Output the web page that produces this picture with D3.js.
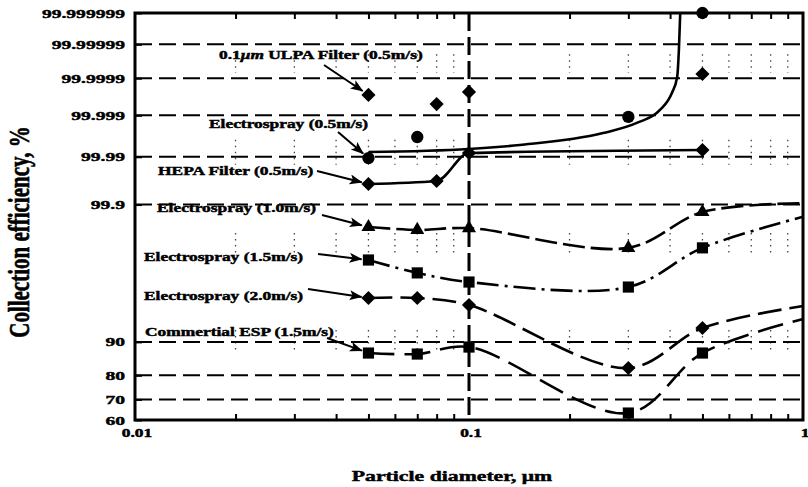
<!DOCTYPE html>
<html>
<head>
<meta charset="utf-8">
<script src="https://cdnjs.cloudflare.com/ajax/libs/d3/7.8.5/d3.min.js"></script>
<style>
	body { margin: 0; background: #fff; }
	text { font-family: "Liberation Serif", "Times New Roman", serif; font-weight: bold; fill: #000; stroke: #000; stroke-width: 0.45px; }
</style>
</head>
<body>
<div id="chart"></div>
<script>
// axis ticks
var sizeTicks = [0.01, 0.1, 1];
var sizeTickLabels = ['0.01', '0.1', '1'];
var effTicks = [60, 70, 80, 90, 99.9, 99.99, 99.999, 99.9999, 99.99999, 99.999999];
var effTickLabels = ['60', '70', '80', '90', '99.9', '99.99', '99.999', '99.9999', '99.99999', '99.999999'];

// measured points (particle size in um, collection efficiency in %)
var ulpaSize = [0.05, 0.08, 0.1, 0.5];
var ulpaEff = [99.99971, 99.99949, 99.99976, 99.999924];

var es05Size = [0.05, 0.07, 0.3, 0.5];
var es05Eff = [99.9893, 99.99654, 99.9989, 99.999999];
// fitted curve for electrospray 0.5 m/s
var es05FitSize = [0.05, 0.1, 0.142, 0.252, 0.318, 0.373, 0.405, 0.42, 0.425, 0.429];
var es05FitEff = [99.9922, 99.99336, 99.99465, 99.99723, 99.99844, 99.999273, 99.999743, 99.9999075, 99.9999851, 99.999999];

var hepaSize = [0.05, 0.08, 0.1, 0.5];
var hepaEff = [99.9612, 99.9663, 99.9918, 99.9930];

var es10Size = [0.05, 0.07, 0.1, 0.3, 0.5];
var es10Eff = [99.740, 99.707, 99.728, 99.413, 99.861];
var es10End = 99.906;

var es15Size = [0.05, 0.07, 0.1, 0.3, 0.5];
var es15Eff = [99.086, 98.574, 98.077, 97.746, 99.413];
var es15End = 99.83;

var es20Size = [0.05, 0.07, 0.1, 0.3, 0.5];
var es20Eff = [96.856, 96.856, 96.14, 82.59, 92.85];
var es20End = 96.03;

var espSize = [0.05, 0.07, 0.1, 0.3, 0.5];
var espEff = [87.18, 86.9, 88.76, 63.5, 87.18];
var espEnd = 94.33;

var width = 808, height = 487;
var plotLeft = 135, plotRight = 803, plotTop = 13, plotBottom = 420;
var SX = 1.45; // the scan is stretched sideways, so is the text

// inverse normal cdf (Acklam), works from the efficiency in %
function probit(eff) {
	var a = [-3.969683028665376e+01, 2.209460984245205e+02, -2.759285104469687e+02, 1.383577518672690e+02, -3.066479806614716e+01, 2.506628277459239e+00];
	var b = [-5.447609879822406e+01, 1.615858368580409e+02, -1.556989798598866e+02, 6.680131188771972e+01, -1.328068155288572e+01];
	var c = [-7.784894002430293e-03, -3.223964580411365e-01, -2.400758277161838e+00, -2.549732539343734e+00, 4.374664141464968e+00, 2.938163982698783e+00];
	var d = [7.784695709041462e-03, 3.224671290700398e-01, 2.445134137142996e+00, 3.754408661907416e+00];
	var p = eff / 100, pen = (100 - eff) / 100, q, r;
	if (pen < 0.02425) {
		q = Math.sqrt(-2 * Math.log(pen));
		return -(((((c[0]*q+c[1])*q+c[2])*q+c[3])*q+c[4])*q+c[5]) / ((((d[0]*q+d[1])*q+d[2])*q+d[3])*q+1);
	}
	if (p < 0.02425) {
		q = Math.sqrt(-2 * Math.log(p));
		return (((((c[0]*q+c[1])*q+c[2])*q+c[3])*q+c[4])*q+c[5]) / ((((d[0]*q+d[1])*q+d[2])*q+d[3])*q+1);
	}
	q = p - 0.5; r = q * q;
	return (((((a[0]*r+a[1])*r+a[2])*r+a[3])*r+a[4])*r+a[5])*q / (((((b[0]*r+b[1])*r+b[2])*r+b[3])*r+b[4])*r+1);
}

var x = d3.scaleLog().domain([0.01, 1]).range([plotLeft, plotRight]);
var yz = d3.scaleLinear().domain([probit(60), probit(99.999999)]).range([plotBottom, plotTop]);
var y = function (eff) { return yz(probit(eff)); };

var svg = d3.select('#chart').append('svg')
	.attr('width', width)
	.attr('height', height);

svg.append('defs').append('marker')
	.attr('id', 'head')
	.attr('markerUnits', 'userSpaceOnUse')
	.attr('markerWidth', 13)
	.attr('markerHeight', 11)
	.attr('refX', 12)
	.attr('refY', 5)
	.attr('orient', 'auto')
	.append('path')
	.attr('d', 'M0,0 L13,5 L0,10 L3,5 z')
	.attr('fill', '#000');

//minor x positions 0.02..0.09, 0.2..0.9
var minorSizes = [];
[0.01, 0.1].forEach(function (dec) {
	for (var k = 2; k <= 9; k++) { minorSizes.push(+(dec * k).toFixed(3)); }
});

//faint dotted minor grid, only shows in a few bands on the scan
var dotBands = [[99.99998, 99.99993], [99.996, 99.985], [99.67, 99.24], [92.5, 88.0]];
var dots = svg.append('g').attr('class', 'minor-dots');
dotBands.forEach(function (band) {
	dots.selectAll(null)
		.data(minorSizes)
		.enter()
		.append('line')
		.attr('x1', function (d) { return x(d); })
		.attr('x2', function (d) { return x(d); })
		.attr('y1', y(band[0]))
		.attr('y2', y(band[1]))
		.attr('stroke', '#444')
		.attr('stroke-width', 1.3)
		.attr('stroke-dasharray', '1.5,4.5');
});

//dashed horizontal grid
svg.append('g').attr('class', 'grid')
	.selectAll('line')
	.data(effTicks.slice(1, -1))
	.enter()
	.append('line')
	.attr('x1', plotLeft)
	.attr('x2', plotRight)
	.attr('y1', function (d) { return y(d); })
	.attr('y2', function (d) { return y(d); })
	.attr('stroke', '#000')
	.attr('stroke-width', 2)
	.attr('stroke-dasharray', '17,7');

//dashed vertical at 0.1
svg.append('line')
	.attr('x1', x(0.1)).attr('x2', x(0.1))
	.attr('y1', plotTop).attr('y2', plotBottom)
	.attr('stroke', '#000')
	.attr('stroke-width', 3)
	.attr('stroke-dasharray', '18,6');

//minor ticks, top and bottom, pointing inside
svg.append('g')
	.attr('transform', 'translate(0,' + plotBottom + ')')
	.call(d3.axisBottom(x).tickValues(minorSizes).tickSize(-6).tickFormat(''))
	.call(function (g) { g.select('.domain').remove(); g.selectAll('line').attr('stroke-width', 2); });

svg.append('g')
	.attr('transform', 'translate(0,' + plotTop + ')')
	.call(d3.axisTop(x).tickValues(minorSizes).tickSize(-6).tickFormat(''))
	.call(function (g) { g.select('.domain').remove(); g.selectAll('line').attr('stroke-width', 2); });

//left ticks
svg.append('g')
	.attr('transform', 'translate(' + plotLeft + ',0)')
	.call(d3.axisLeft(yz).tickValues(effTicks.map(probit)).tickSize(-7).tickFormat(''))
	.call(function (g) { g.select('.domain').remove(); g.selectAll('line').attr('stroke-width', 2); });

//frame
svg.append('rect')
	.attr('x', plotLeft).attr('y', plotTop)
	.attr('width', plotRight - plotLeft).attr('height', plotBottom - plotTop)
	.attr('fill', 'none')
	.attr('stroke', '#000')
	.attr('stroke-width', 3);

function stretched(parent, px, py, size, anchor) {
	return parent.append('text')
		.attr('transform', 'translate(' + px + ',' + py + ') scale(' + SX + ',1)')
		.attr('text-anchor', anchor)
		.attr('font-size', size);
}

//tick labels
var labels = svg.append('g').attr('class', 'labels');
effTicks.forEach(function (v, i) {
	stretched(labels, 125, y(v) + 4.5, 13.5, 'end').text(effTickLabels[i]);
});
sizeTicks.forEach(function (v, i) {
	stretched(labels, x(v) + 2, 437, 12, 'middle').text(sizeTickLabels[i]);
});

//axis titles
stretched(svg, 452, 481, 15, 'middle').text('Particle diameter, \u03bcm');
svg.append('text')
	.attr('transform', 'translate(29,232) scale(' + SX + ',1) rotate(-90)')
	.attr('text-anchor', 'middle')
	.attr('font-size', 21)
	.text('Collection efficiency, %');

//fitted lines
function pairs(sizes, effs) {
	return sizes.map(function (s, i) { return [s, effs[i]]; });
}

var smooth = d3.line()
	.x(function (d) { return x(d[0]); })
	.y(function (d) { return y(d[1]); })
	.curve(d3.curveMonotoneX);

var bendy = d3.line()
	.x(function (d) { return x(d[0]); })
	.y(function (d) { return y(d[1]); })
	.curve(d3.curveCatmullRom.alpha(0.5));

var fits = [
	{ pts: pairs(es05FitSize, es05FitEff), dash: null, gen: smooth },
	{ pts: pairs(hepaSize, hepaEff), dash: null, gen: smooth },
	{ pts: pairs(es10Size.concat([1]), es10Eff.concat([es10End])), dash: '22,6', gen: bendy },
	{ pts: pairs(es15Size.concat([1]), es15Eff.concat([es15End])), dash: '22,6,3,6', gen: bendy },
	{ pts: pairs(es20Size.concat([1]), es20Eff.concat([es20End])), dash: '24,8', gen: bendy },
	{ pts: pairs(espSize.concat([1]), espEff.concat([espEnd])), dash: '26,10', gen: bendy }
];

svg.append('g').attr('class', 'fits')
	.selectAll('path')
	.data(fits)
	.enter()
	.append('path')
	.attr('d', function (d) { return d.gen(d.pts); })
	.attr('fill', 'none')
	.attr('stroke', '#000')
	.attr('stroke-width', 2.6)
	.attr('stroke-dasharray', function (d) { return d.dash; });

//marker symbols
var shapes = {
	diamond: { type: d3.symbolSquare, size: 100, rot: 45 },
	circle: { type: d3.symbolCircle, size: 120, rot: 0 },
	square: { type: d3.symbolSquare, size: 125, rot: 0 },
	triangle: { type: d3.symbolTriangle, size: 85, rot: 0 }
};

var series = [
	{ pts: pairs(ulpaSize, ulpaEff), shape: 'diamond' },
	{ pts: pairs(es05Size, es05Eff), shape: 'circle' },
	{ pts: pairs(hepaSize, hepaEff), shape: 'diamond' },
	{ pts: pairs(es10Size, es10Eff), shape: 'triangle' },
	{ pts: pairs(es15Size, es15Eff), shape: 'square' },
	{ pts: pairs(es20Size, es20Eff), shape: 'diamond' },
	{ pts: pairs(espSize, espEff), shape: 'square' }
];

series.forEach(function (s) {
	var sh = shapes[s.shape];
	svg.append('g').attr('class', 'marks')
		.selectAll('path')
		.data(s.pts)
		.enter()
		.append('path')
		.attr('d', d3.symbol().type(sh.type).size(sh.size))
		.attr('transform', function (d) {
			return 'translate(' + x(d[0]) + ',' + y(d[1]) + ') rotate(' + sh.rot + ')';
		})
		.attr('fill', '#000');
});

//labels with arrows, each one points at the first point of its series
var notes = [
	{ text: ['0.1', '\u03bcm', ' ULPA Filter (0.5m/s)'], tx: 219, ty: 59, ax: 324, ay: 65, s: 0 },
	{ text: ['Electrospray (0.5m/s)'], tx: 209, ty: 128, ax: 338, ay: 132, s: 1 },
	{ text: ['HEPA Filter (0.5m/s)'], tx: 158, ty: 175, ax: 317, ay: 171, s: 2 },
	{ text: ['Electrospray (1.0m/s)'], tx: 157, ty: 212, ax: 322, ay: 215, s: 3 },
	{ text: ['Electrospray (1.5m/s)'], tx: 144, ty: 261, ax: 318, ay: 254, s: 4 },
	{ text: ['Electrospray (2.0m/s)'], tx: 144, ty: 300, ax: 308, ay: 289, s: 5 },
	{ text: ['Commertial ESP (1.5m/s)'], tx: 145, ty: 336, ax: 327, ay: 338, s: 6 }
];

var noteGroup = svg.append('g').attr('class', 'notes');
notes.forEach(function (n) {
	var t = stretched(noteGroup, n.tx, n.ty, 12, 'start');
	n.text.forEach(function (part, i) {
		t.append('tspan')
			.attr('font-style', n.text.length > 1 && i === 1 ? 'italic' : 'normal')
			.text(part);
	});
	var p = series[n.s].pts[0];
	var px = x(p[0]), py = y(p[1]);
	var dx = px - n.ax, dy = py - n.ay, len = Math.sqrt(dx * dx + dy * dy);
	noteGroup.append('line')
		.attr('x1', n.ax).attr('y1', n.ay)
		.attr('x2', px - dx / len * 7).attr('y2', py - dy / len * 7)
		.attr('stroke', '#000')
		.attr('stroke-width', 2)
		.attr('marker-end', 'url(#head)');
});
</script>
</body>
</html>
